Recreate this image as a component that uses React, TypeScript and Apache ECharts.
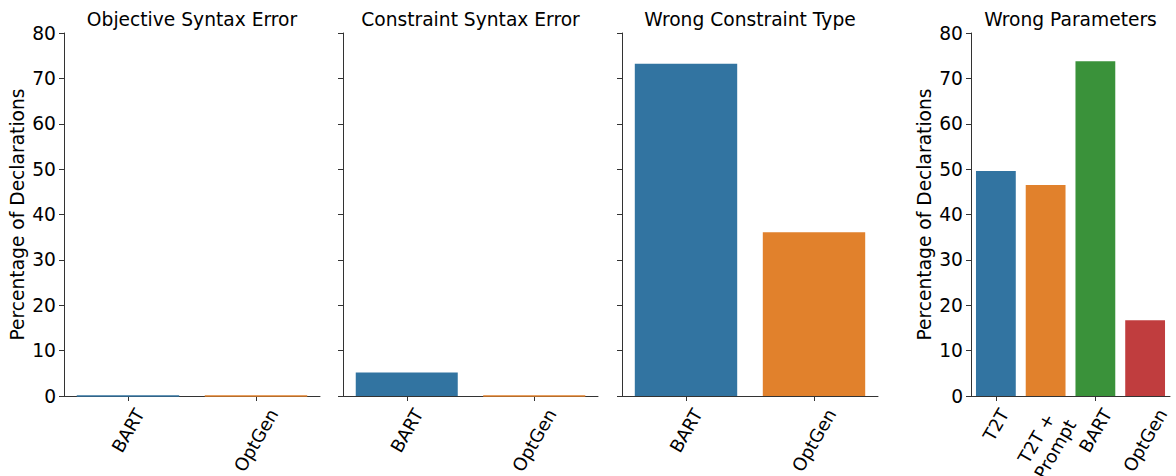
import React, { useEffect, useRef } from "react";
import * as echarts from "echarts";

// ---- data ----
const panelTitles = [
  "Objective Syntax Error",
  "Constraint Syntax Error",
  "Wrong Constraint Type",
  "Wrong Parameters",
];
const modelsTwo = ["BART", "OptGen"];
const objectiveSyntaxError = [0, 0];
const constraintSyntaxError = [5.2, 0];
const wrongConstraintType = [73.2, 36.1];
const modelsFour = ["T2T", "T2T +\nPrompt", "BART", "OptGen"];
const wrongParameters = [49.6, 46.5, 73.8, 16.7];
const yMin = 0;
const yMax = 80;
const yStep = 10;
const yAxisTitle = "Percentage of Declarations";

// ---- style ----
const FONT = "DejaVu Sans";
const FS = 18.67;
const FSX = 18;
const LHX = FSX * 1.2;
const AXIS = "#333333";
const PALETTE = ["#3274a1", "#e1812c", "#3a923a", "#c03d3e"];
const GRIDS = [
  { left: 64, width: 256 },
  { left: 343, width: 255 },
  { left: 622, width: 256 },
  { left: 971, width: 199 },
];
const TOP = 33;
const HEIGHT = 363;
const PAD = 9;
const ROT = 60;

function measure(text: string) {
  const canvas = document.createElement("canvas");
  const ctx = canvas.getContext("2d")!;
  ctx.font = `${FSX}px "${FONT}"`;
  const lines = text.split("\n");
  const w = Math.max(...lines.map((l) => ctx.measureText(l).width));
  const h = FSX * 1.164 + (lines.length - 1) * LHX;
  return { w, h };
}

export default function App() {
  const ref = useRef<HTMLDivElement>(null);
  useEffect(() => {
    if (!ref.current) return;
    const chart = echarts.init(ref.current, undefined, { renderer: "svg" });
    const panels = [
      { cats: modelsTwo, vals: objectiveSyntaxError },
      { cats: modelsTwo, vals: constraintSyntaxError },
      { cats: modelsTwo, vals: wrongConstraintType },
      { cats: modelsFour, vals: wrongParameters },
    ];
    const option: any = {
      animation: false,
      backgroundColor: "#ffffff",
      textStyle: { fontFamily: FONT },
      title: panelTitles.map((t, i) => ({
        text: t,
        left: GRIDS[i].left + GRIDS[i].width / 2,
        top: 10,
        padding: 0,
        textAlign: "center",
        textStyle: { fontFamily: FONT, fontSize: FS, fontWeight: "normal", color: "#000" },
      })),
      grid: GRIDS.map((g) => ({
        left: g.left,
        width: g.width,
        top: TOP,
        height: HEIGHT,
        containLabel: false,
        outerBoundsMode: "none",
      })),
      xAxis: panels.map((p, i) => ({
        type: "category",
        gridIndex: i,
        data: p.cats,
        axisLine: { show: true, lineStyle: { color: AXIS, width: 1 } },
        axisTick: { show: true, alignWithLabel: true, length: 5, lineStyle: { color: AXIS } },
        axisLabel: { show: false },
        splitLine: { show: false },
      })),
      yAxis: panels.map((p, i) => ({
        type: "value",
        gridIndex: i,
        min: yMin,
        max: yMax,
        interval: yStep,
        name: i === 0 || i === 3 ? yAxisTitle : "",
        nameLocation: "middle",
        nameGap: 37,
        nameTextStyle: { fontFamily: FONT, fontSize: FS, color: "#000" },
        axisLine: { show: true, lineStyle: { color: AXIS, width: 1 } },
        axisTick: { show: true, length: 5, lineStyle: { color: AXIS } },
        axisLabel: {
          show: i === 0 || i === 3,
          margin: 8,
          fontFamily: FONT,
          fontSize: FS,
          color: "#000",
        },
        splitLine: { show: false },
      })),
      series: panels.map((p, i) => ({
        type: "bar",
        xAxisIndex: i,
        yAxisIndex: i,
        barWidth: "80%",
        data: p.vals.map((v, j) => ({
          value: v,
          itemStyle: {
            color: PALETTE[j],
            borderColor: PALETTE[j],
            borderWidth: v === 0 ? 1 : 0,
          },
        })),
      })),
    };
    chart.setOption(option);

    // rotated category labels, centred under each tick (matplotlib style)
    const r = (ROT * Math.PI) / 180;
    const labels: any[] = [];
    panels.forEach((p, i) => {
      p.cats.forEach((c, j) => {
        const pt = chart.convertToPixel({ xAxisIndex: i, yAxisIndex: i } as any, [j, 0]) as number[];
        if (!pt) return;
        const { w, h } = measure(c);
        const Hb = w * Math.sin(r) + h * Math.cos(r);
        labels.push({
          type: "text",
          x: pt[0],
          y: pt[1] + PAD + Hb / 2,
          rotation: r,
          silent: true,
          style: {
            text: c,
            x: 0,
            y: 0,
            align: "center",
            verticalAlign: "middle",
            lineHeight: LHX,
            font: `${FSX}px "${FONT}"`,
            fill: "#000",
          },
        });
      });
    });
    chart.setOption({ graphic: labels });
    return () => chart.dispose();
  }, []);
  return (
    <div
      ref={ref}
      style={{ position: "absolute", left: 0, top: 0, width: 1176, height: 476 }}
    />
  );
}
